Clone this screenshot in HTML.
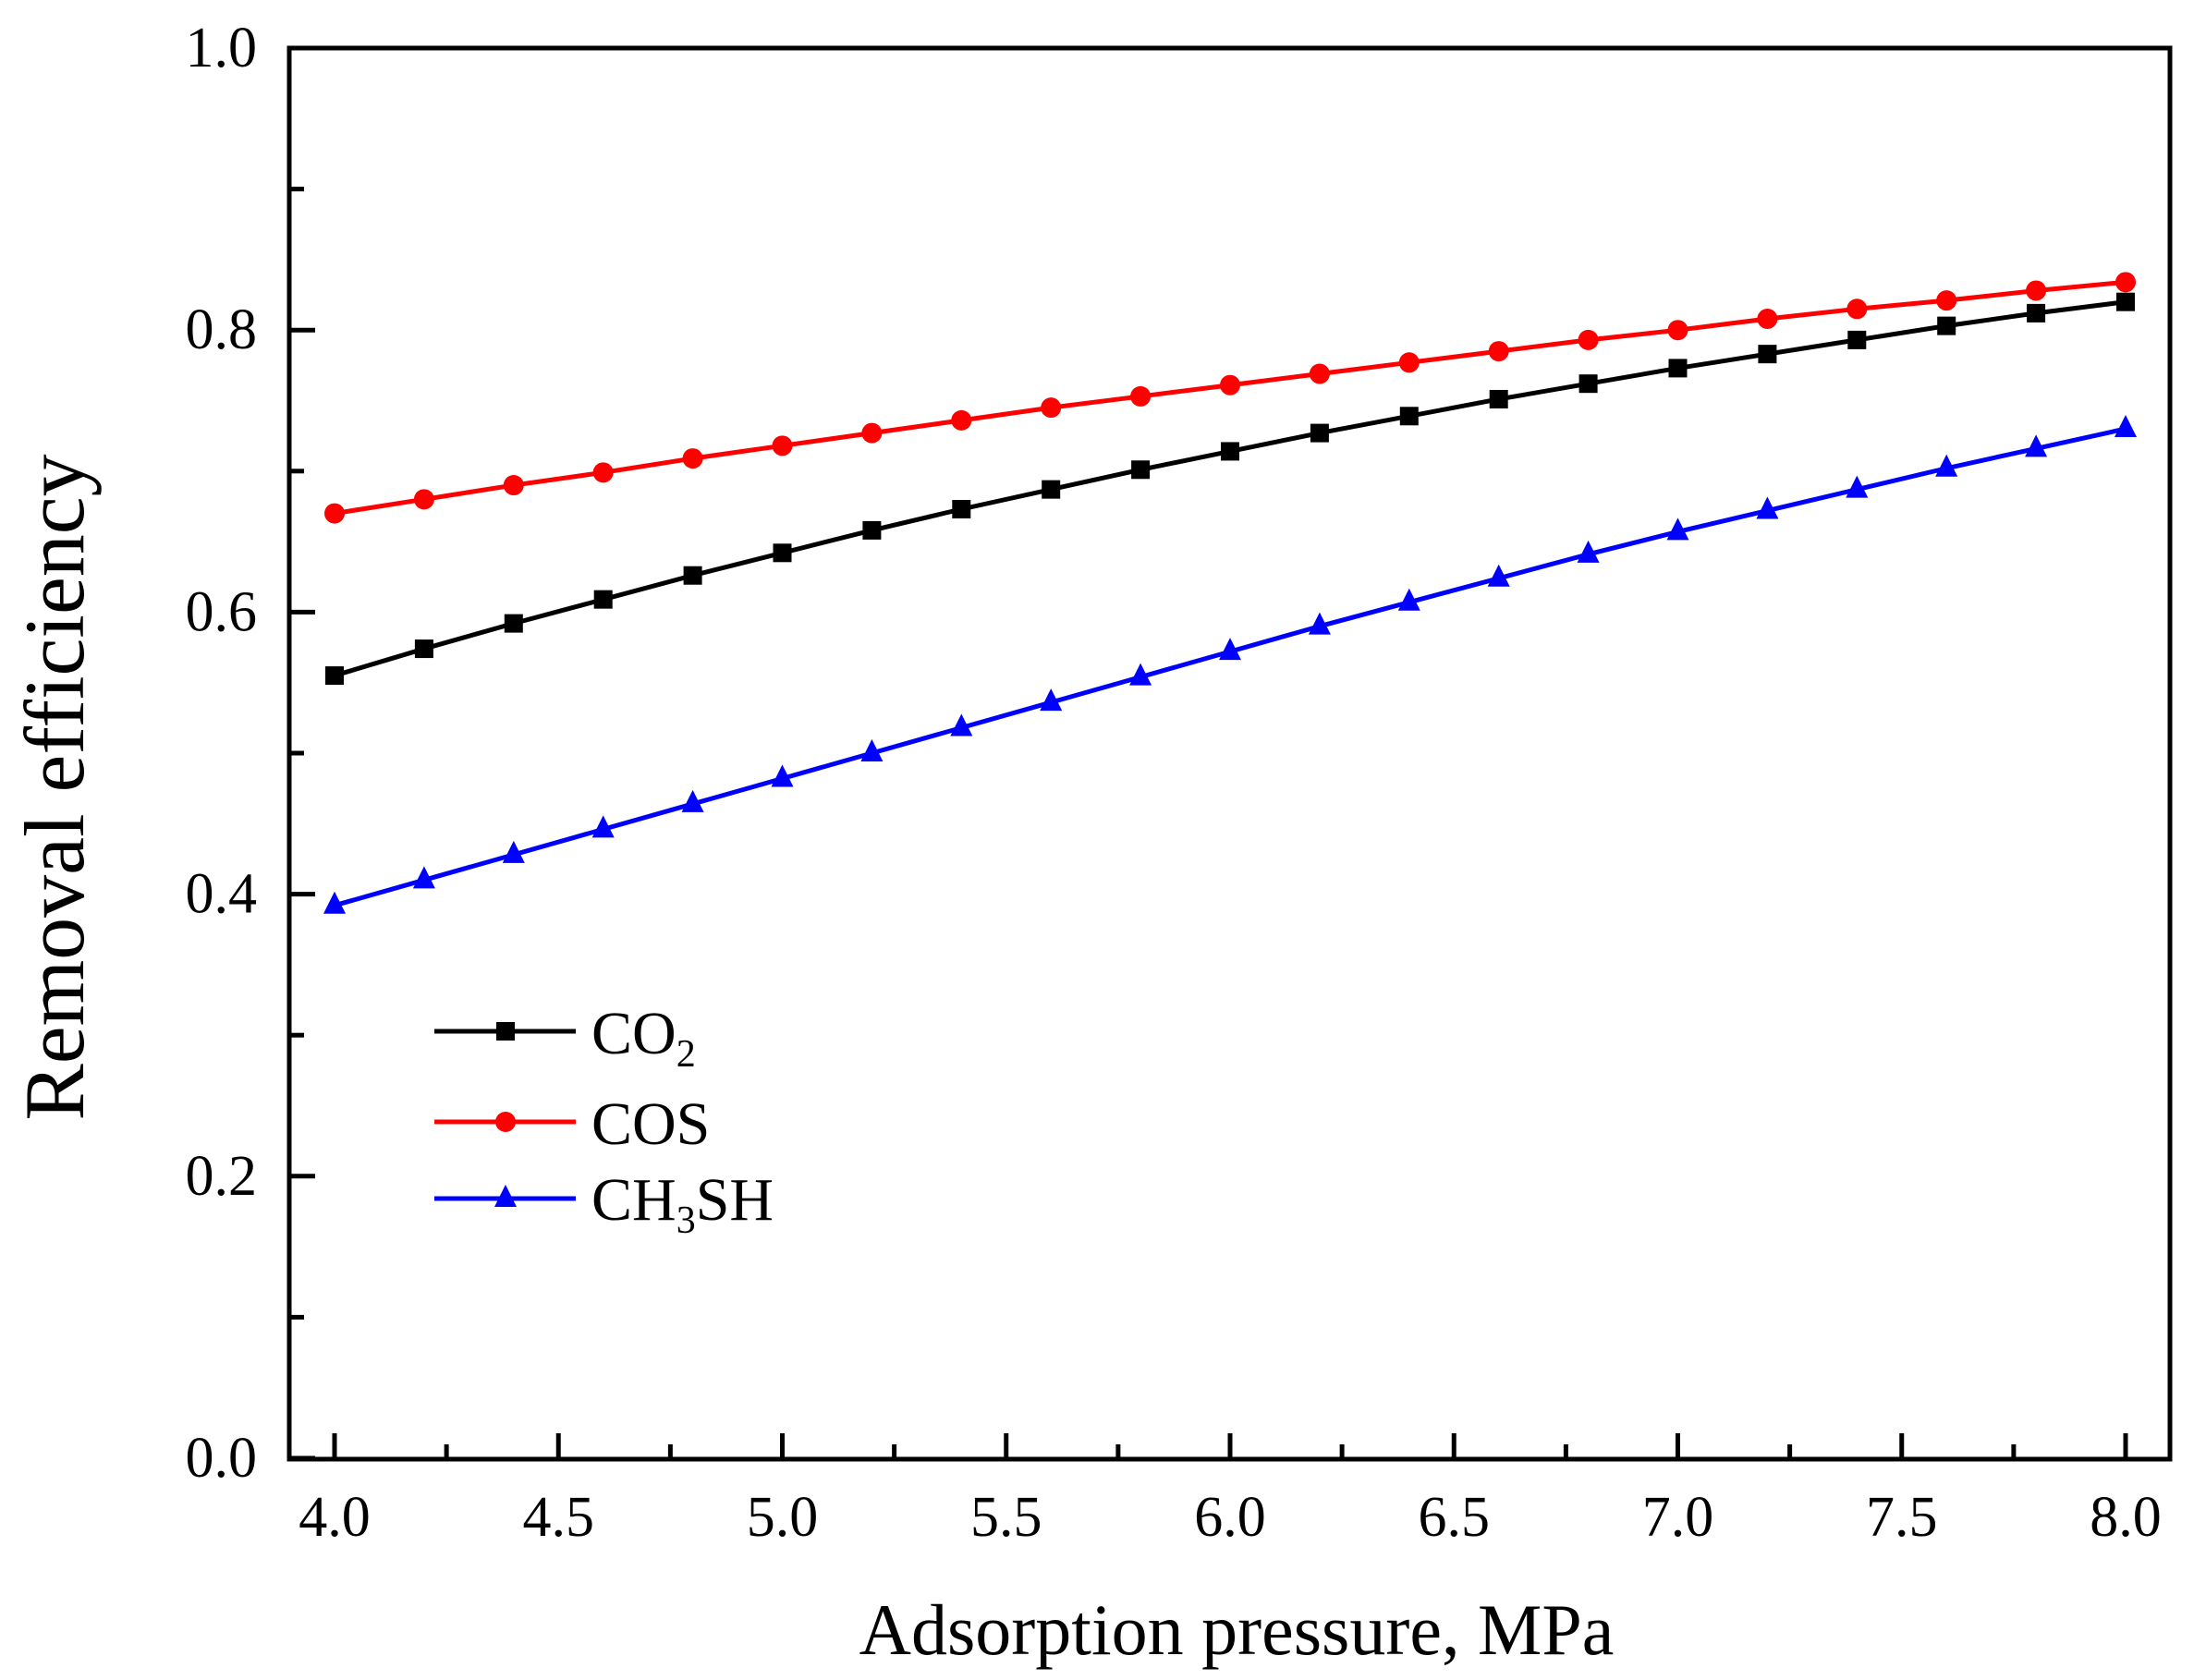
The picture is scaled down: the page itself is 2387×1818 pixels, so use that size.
<!DOCTYPE html>
<html><head><meta charset="utf-8"><style>
html,body{margin:0;padding:0;background:#fff;}
svg{display:block;font-family:"Liberation Serif",serif;}
</style></head><body>
<svg id="s" width="2387" height="1818" viewBox="0 0 2387 1818" xmlns="http://www.w3.org/2000/svg">
<rect width="2387" height="1818" fill="#fff"/>
<g id="g"></g>
<rect x="313" y="52" width="2035" height="1527" fill="none" stroke="#000" stroke-width="5"/>
<text x="1338" y="1790" font-size="78" text-anchor="middle">Adsorption pressure, MPa</text>
<text transform="translate(90,852) rotate(-90)" font-size="92" text-anchor="middle">Removal efficiency</text>
<line x1="470" y1="1116" x2="623" y2="1116" stroke="#000" stroke-width="5"/>
<rect x="537" y="1106" width="20" height="20" fill="#000"/>
<line x1="470" y1="1214" x2="623" y2="1214" stroke="#f00" stroke-width="5"/>
<circle cx="547" cy="1214" r="11" fill="#f00"/>
<line x1="470" y1="1297" x2="623" y2="1297" stroke="#00f" stroke-width="5"/>
<polygon points="547,1282 535,1306 559,1306" fill="#00f"/>
<text x="640" y="1140" font-size="66">CO<tspan font-size="42" dy="14">2</tspan></text>
<text x="640" y="1238" font-size="66">COS</text>
<text x="640" y="1320" font-size="66">CH<tspan font-size="42" dy="14">3</tspan><tspan dy="-14">SH</tspan></text>
</svg>
<script>
var g=document.getElementById('g'),h='';
function X(v){return 362+(v-4)*484.5;}
function Y(v){return 1578-v*1526;}
for(var k=0;k<=16;k++){var v=4+k*0.25;var x=X(v);var maj=(k%2==0);
 h+='<line x1="'+x+'" y1="1579" x2="'+x+'" y2="'+(1579-(maj?28:16))+'" stroke="#000" stroke-width="5"/>';
 if(maj)h+='<text x="'+x+'" y="1662" font-size="62" text-anchor="middle">'+v.toFixed(1)+'</text>';}
for(var k=0;k<=10;k++){var v=k*0.1;var y=Y(v);var maj=(k%2==0);
 h+='<line x1="313" y1="'+y+'" x2="'+(313+(maj?28:16))+'" y2="'+y+'" stroke="#000" stroke-width="5"/>';
 if(maj)h+='<text x="278" y="'+(y+20)+'" font-size="62" text-anchor="end">'+v.toFixed(1)+'</text>';}
var co2=[0.555,0.574,0.592,0.609,0.626,0.642,0.658,0.673,0.687,0.701,0.714,0.727,0.739,0.751,0.762,0.773,0.783,0.793,0.803,0.812,0.820];
var cos=[0.670,0.680,0.690,0.699,0.709,0.718,0.727,0.736,0.745,0.753,0.761,0.769,0.777,0.785,0.793,0.800,0.808,0.815,0.821,0.828,0.834];
var ch=[0.392,0.410,0.428,0.446,0.464,0.482,0.500,0.518,0.536,0.554,0.572,0.590,0.607,0.624,0.641,0.657,0.672,0.687,0.702,0.716,0.730];
function ser(d,c,m){var p=[];for(var i=0;i<d.length;i++)p.push(X(4+i*0.2)+','+Y(d[i]));
 h+='<polyline points="'+p.join(' ')+'" fill="none" stroke="'+c+'" stroke-width="5"/>';
 for(var i=0;i<d.length;i++){var x=X(4+i*0.2),y=Y(d[i]);
  if(m==0)h+='<rect x="'+(x-10)+'" y="'+(y-10)+'" width="20" height="20" fill="'+c+'"/>';
  else if(m==1)h+='<circle cx="'+x+'" cy="'+y+'" r="11" fill="'+c+'"/>';
  else h+='<polygon points="'+x+','+(y-15)+' '+(x-12)+','+(y+9)+' '+(x+12)+','+(y+9)+'" fill="'+c+'"/>';}}
ser(co2,'#000',0);ser(cos,'#f00',1);ser(ch,'#00f',2);
g.innerHTML=h;
</script>
</body></html>
